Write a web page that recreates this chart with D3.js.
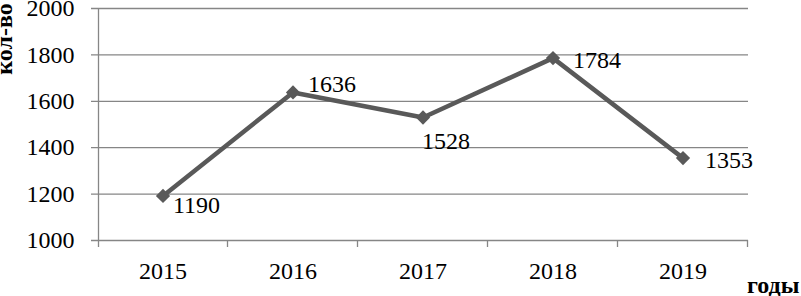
<!DOCTYPE html>
<html>
<head>
<meta charset="utf-8">
<script src="https://cdn.jsdelivr.net/npm/d3@7"></script>
<style>
  body { margin: 0; background: #fff; }
  svg { display: block; }
  text { font-family: "Liberation Serif", "Times New Roman", serif; }
</style>
</head>
<body>
<svg class="chart" width="801" height="296"></svg>
<script>
var years = ['2015', '2016', '2017', '2018', '2019']
var counts = [1190, 1636, 1528, 1784, 1353]
var yTicks = [1000, 1200, 1400, 1600, 1800, 2000]

var plot = { left: 98, right: 748, top: 8, bottom: 240 }
var gridColor = '#868686', lineColor = '#595959'

// label placement relative to each point (dx, baseline dy)
var labelOffsets = [[10, 17], [15, 0], [-1, 31], [20, 10], [22, 10]]

var svg = d3.select('.chart')

var x = d3.scaleBand()
    .domain(years)
    .range([plot.left, plot.right])

var y = d3.scaleLinear()
    .domain([1000, 2000])
    .range([plot.bottom, plot.top])

// gridlines
svg.append('g')
  .selectAll('line')
  .data(yTicks)
  .enter().append('line')
    .attr('x1', plot.left - 7)
    .attr('x2', plot.right)
    .attr('y1', function(d) { return y(d) + 0.5; })
    .attr('y2', function(d) { return y(d) + 0.5; })
    .attr('stroke', gridColor)
    .attr('stroke-width', 1.3)

var yAxis = d3.axisLeft(y)
    .tickValues(yTicks)
    .tickFormat(d3.format('d'))
    .tickSize(0)
    .tickPadding(24)

var gy = svg.append('g')
    .attr('transform', `translate(${plot.left + 0.5}, 0)`)
    .call(yAxis)
gy.select('.domain').remove()
gy.selectAll('text')
    .attr('font-size', 24)
    .attr('font-family', '"Liberation Serif", serif')
    .attr('fill', '#000')

// y axis line
svg.append('line')
    .attr('x1', plot.left + 0.5).attr('x2', plot.left + 0.5)
    .attr('y1', plot.top).attr('y2', plot.bottom + 7)
    .attr('stroke', gridColor)
    .attr('stroke-width', 1.3)

// x axis boundary ticks
var bounds = years.map(function(d) { return x(d); }).concat([x(years[years.length - 1]) + x.bandwidth()])
svg.append('g')
  .selectAll('line')
  .data(bounds.slice(1))
  .enter().append('line')
    .attr('x1', function(d) { return d - 0.5; })
    .attr('x2', function(d) { return d - 0.5; })
    .attr('y1', plot.bottom)
    .attr('y2', plot.bottom + 7)
    .attr('stroke', gridColor)
    .attr('stroke-width', 1.3)

svg.append('g')
  .selectAll('text')
  .data(years)
  .enter().append('text')
    .attr('x', function(d) { return x(d) + x.bandwidth() / 2; })
    .attr('y', 279)
    .attr('text-anchor', 'middle')
    .attr('font-size', 24)
    .text(function(d) { return d; })

var pts = years.map(function(d, i) {
    return { year: d, value: counts[i], px: x(d) + x.bandwidth() / 2, py: y(counts[i]) };
})

var line = d3.line()
    .x(function(d) { return d.px; })
    .y(function(d) { return d.py; })

svg.append('path')
    .datum(pts)
    .attr('d', line)
    .attr('fill', 'none')
    .attr('stroke', lineColor)
    .attr('stroke-width', 4.5)
    .attr('stroke-linejoin', 'round')

svg.append('g')
  .selectAll('path')
  .data(pts)
  .enter().append('path')
    .attr('d', d3.symbol().type(d3.symbolDiamond2).size(130))
    .attr('transform', function(d) { return `translate(${d.px}, ${d.py})`; })
    .attr('fill', lineColor)

svg.append('g')
  .selectAll('text')
  .data(pts)
  .enter().append('text')
    .attr('x', function(d, i) { return d.px + labelOffsets[i][0]; })
    .attr('y', function(d, i) { return d.py + labelOffsets[i][1]; })
    .attr('font-size', 24)
    .text(function(d) { return d.value; })

// axis titles
svg.append('text')
    .attr('transform', 'translate(12, 39) rotate(-90)')
    .attr('text-anchor', 'middle')
    .attr('font-size', 24)
    .attr('font-weight', 'bold')
    .text('кол-во')

svg.append('text')
    .attr('x', 747)
    .attr('y', 293)
    .attr('font-size', 24)
    .attr('font-weight', 'bold')
    .text('годы')
</script>
</body>
</html>
